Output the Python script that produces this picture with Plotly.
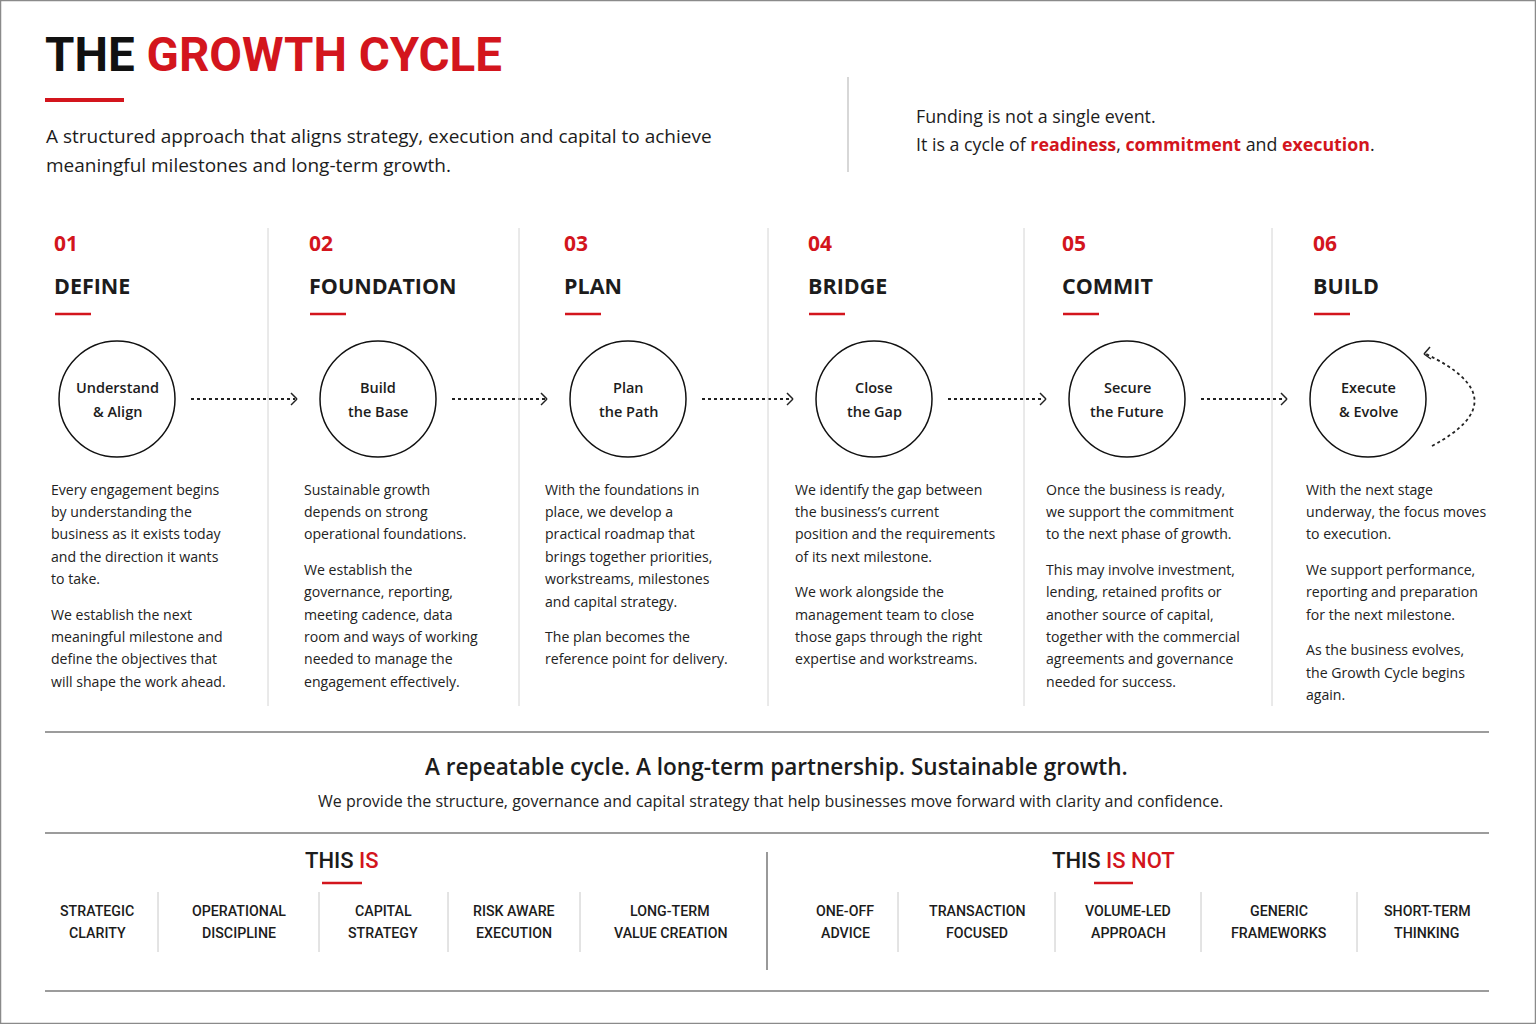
"""
The Growth Cycle - six-step infographic drawn with Plotly shapes and annotations.
"""
import plotly.graph_objects as go

# --- CONTENT ---
STEP_NUMBERS = ["01", "02", "03", "04", "05", "06"]
STEP_TITLES = ["DEFINE", "FOUNDATION", "PLAN", "BRIDGE", "COMMIT", "BUILD"]
CIRCLE_LABELS = [
    ["Understand", "& Align"],
    ["Build", "the Base"],
    ["Plan", "the Path"],
    ["Close", "the Gap"],
    ["Secure", "the Future"],
    ["Execute", "& Evolve"],
]
STEP_BODIES = [
    [["Every engagement begins", "by understanding the", "business as it exists today",
      "and the direction it wants", "to take."],
     ["We establish the next", "meaningful milestone and", "define the objectives that",
      "will shape the work ahead."]],
    [["Sustainable growth", "depends on strong", "operational foundations."],
     ["We establish the", "governance, reporting,", "meeting cadence, data",
      "room and ways of working", "needed to manage the", "engagement effectively."]],
    [["With the foundations in", "place, we develop a", "practical roadmap that",
      "brings together priorities,", "workstreams, milestones", "and capital strategy."],
     ["The plan becomes the", "reference point for delivery."]],
    [["We identify the gap between", "the business\u2019s current",
      "position and the requirements", "of its next milestone."],
     ["We work alongside the", "management team to close",
      "those gaps through the right", "expertise and workstreams."]],
    [["Once the business is ready,", "we support the commitment",
      "to the next phase of growth."],
     ["This may involve investment,", "lending, retained profits or",
      "another source of capital,", "together with the commercial",
      "agreements and governance", "needed for success."]],
    [["With the next stage", "underway, the focus moves", "to execution."],
     ["We support performance,", "reporting and preparation", "for the next milestone."],
     ["As the business evolves,", "the Growth Cycle begins", "again."]],
]
THIS_IS = [["STRATEGIC", "CLARITY"], ["OPERATIONAL", "DISCIPLINE"], ["CAPITAL", "STRATEGY"],
           ["RISK AWARE", "EXECUTION"], ["LONG-TERM", "VALUE CREATION"]]
THIS_IS_NOT = [["ONE-OFF", "ADVICE"], ["TRANSACTION", "FOCUSED"], ["VOLUME-LED", "APPROACH"],
               ["GENERIC", "FRAMEWORKS"], ["SHORT-TERM", "THINKING"]]

TITLE_BLACK = "THE"
TITLE_RED = "GROWTH CYCLE"
SUBTITLE = ["A structured approach that aligns strategy, execution and capital to achieve",
            "meaningful milestones and long-term growth."]
TAGLINE = "A repeatable cycle. A long-term partnership. Sustainable growth."
TAG_SUB = ("We provide the structure, governance and capital strategy that help businesses "
           "move forward with clarity and confidence.")

# --- LAYOUT (pixels, y grows downward) ---
W, H = 1536, 1024
RED = "#d3151d"
INK = "#1c1c1c"
BODY_FONT = "Open Sans"
CAPS_FONT = "Roboto"

COL_X = [55, 310, 565, 809, 1063, 1314]          # heading left edge
BODY_X = [51, 304, 545, 795, 1046, 1306]         # body text left edge
CIRCLE_X = [117, 378, 628, 874, 1127, 1368]
DIVIDER_X = [268, 519, 768, 1024, 1272]
CIRCLE_Y, CIRCLE_R = 399, 58
LINE_STEP, PARA_STEP = 22.4, 35.5

IS_X = [97, 239, 383, 514, 670]
IS_DIV = [158, 319, 448, 580]
NOT_X = [845, 977, 1128, 1279, 1427]
NOT_DIV = [898, 1055, 1201, 1357]

shapes = []
annotations = []


def text(x, y, s, size, color=INK, family=BODY_FONT, weight="normal", anchor="left"):
    annotations.append(dict(
        x=x, y=y, xref="x", yref="y", text=s, showarrow=False,
        xanchor=anchor, yanchor="middle",
        font=dict(family=family, size=size, color=color, weight=weight)))


def line(x0, y0, x1, y1, color, width=1, dash=None):
    shapes.append(dict(type="line", x0=x0, y0=y0, x1=x1, y1=y1, xref="x", yref="y",
                       line=dict(color=color, width=width, dash=dash)))


# Header
text(43, 55, f"{TITLE_BLACK} <span style='color:{RED}'>{TITLE_RED}</span>", 47.5,
     color="#111111", family=CAPS_FONT, weight=700)
line(45, 100, 124, 100, RED, 4)
for i, s in enumerate(SUBTITLE):
    text(44, 136 + i * 29, s, 19)
line(848, 77, 848, 172, "#bdbdbd", 1.2)
text(914, 116, "Funding is not a single event.", 17.8)
text(914, 144, "It is a cycle of "
     f"<b><span style='color:{RED}'>readiness</span></b>, "
     f"<b><span style='color:{RED}'>commitment</span></b> and "
     f"<b><span style='color:{RED}'>execution</span></b>.", 17.8)

# Steps
for i in range(len(STEP_TITLES)):
    text(COL_X[i] - 3, 243, STEP_NUMBERS[i], 21, color=RED, weight=700)
    text(COL_X[i] - 3, 285, STEP_TITLES[i], 21.5, weight=700)
    line(COL_X[i], 314, COL_X[i] + 36, 314, RED, 2.5)

    cx = CIRCLE_X[i]
    shapes.append(dict(type="circle", xref="x", yref="y",
                       x0=cx - CIRCLE_R, x1=cx + CIRCLE_R,
                       y0=CIRCLE_Y - CIRCLE_R, y1=CIRCLE_Y + CIRCLE_R,
                       line=dict(color="#111111", width=1.5)))
    for j, s in enumerate(CIRCLE_LABELS[i]):
        text(cx, CIRCLE_Y - 12 + j * 24, s, 14.5, weight=600, anchor="center")

    y = 489
    for p, para in enumerate(STEP_BODIES[i]):
        if p > 0:
            y += PARA_STEP - LINE_STEP
        for s in para:
            text(BODY_X[i] - 2, y, s, 14.1, color="#222222")
            y += LINE_STEP

    # dotted arrow to next step
    if i < len(STEP_TITLES) - 1:
        x0, x1 = cx + 74, CIRCLE_X[i + 1] - 81
        line(x0, CIRCLE_Y, x1 - 2, CIRCLE_Y, "#222222", 1.8, "dot")
        line(x1 - 6, CIRCLE_Y - 6, x1, CIRCLE_Y, "#222222", 1.5)
        line(x1 - 6, CIRCLE_Y + 6, x1, CIRCLE_Y, "#222222", 1.5)

# return loop arrow on the last circle
lx = CIRCLE_X[-1]
shapes.append(dict(type="path", xref="x", yref="y",
                   path=f"M {lx + 64},{CIRCLE_Y + 47} Q {lx + 152},{CIRCLE_Y} {lx + 58},{CIRCLE_Y - 45}",
                   line=dict(color="#222222", width=1.8, dash="dot")))
line(lx + 62, CIRCLE_Y - 52, lx + 56, CIRCLE_Y - 45, "#222222", 1.5)
line(lx + 63, CIRCLE_Y - 40, lx + 56, CIRCLE_Y - 45, "#222222", 1.5)

for x in DIVIDER_X:
    line(x, 228, x, 706, "#d4d4d4", 1)

# Tagline band
line(45, 732, 1489, 732, "#3a3a3a", 1.2)
text(776, 766, TAGLINE, 22.6, weight=600, anchor="center")
text(770, 801, TAG_SUB, 16, color="#222222", anchor="center")
line(45, 833, 1489, 833, "#3a3a3a", 1.2)

# This is / This is not
text(342, 860, f"THIS <span style='color:{RED}'>IS</span>", 22, family=CAPS_FONT, weight=500,
     anchor="center")
line(322, 883, 362, 883, RED, 2.5)
text(1113, 860, f"THIS <span style='color:{RED}'>IS NOT</span>", 22, family=CAPS_FONT, weight=500,
     anchor="center")
line(1094, 883, 1133, 883, RED, 2.5)
line(767, 852, 767, 970, "#555555", 1.2)

for xs, items, divs in [(IS_X, THIS_IS, IS_DIV), (NOT_X, THIS_IS_NOT, NOT_DIV)]:
    for x, item in zip(xs, items):
        for j, s in enumerate(item):
            text(x, 911 + j * 22, s, 14.2, family=CAPS_FONT, weight=500, anchor="center")
    for x in divs:
        line(x, 892, x, 952, "#c8c8c8", 1)

line(45, 991, 1489, 991, "#3a3a3a", 1.2)

# page border
shapes.append(dict(type="rect", xref="x", yref="y", x0=0.5, y0=0.5, x1=W - 0.5, y1=H - 0.5,
                   line=dict(color="#8a8a8a", width=1.5)))

fig = go.Figure()
fig.update_layout(
    width=W, height=H,
    margin=dict(l=0, r=0, t=0, b=0),
    paper_bgcolor="white", plot_bgcolor="white",
    showlegend=False,
    shapes=shapes, annotations=annotations,
    xaxis=dict(range=[0, W], visible=False, fixedrange=True),
    yaxis=dict(range=[H, 0], visible=False, fixedrange=True),
)
# drop the browser's default body margin so the page fills the window exactly
fig.write_html("out.html", post_script="document.body.style.margin='0';",
               config={"displayModeBar": False})
